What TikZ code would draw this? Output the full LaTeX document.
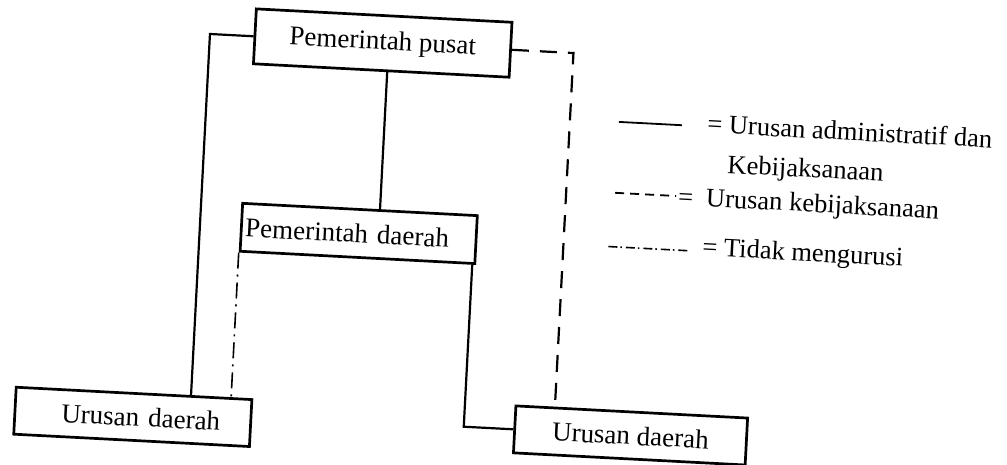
\documentclass[tikz,border=0pt]{standalone}
\usepackage{fontspec}
\setmainfont{Liberation Serif}
\begin{document}
\begin{tikzpicture}[x=1pt,y=-1pt,
  box/.style={draw, line width=2.7pt, inner sep=0pt, font=\fontsize{27}{32}\selectfont},
  conn/.style={line width=2.2pt},
  dashconn/.style={line width=2.2pt, dash pattern=on 17pt off 11pt},
  dashdotconn/.style={line width=1.6pt, dash pattern=on 16pt off 6pt on 2pt off 6pt},
  legtext/.style={anchor=base west, inner sep=0pt, font=\fontsize{26.5}{32}\selectfont}]
\useasboundingbox[fill=white] (0,0) rectangle (1007,465);
\begin{scope}[rotate around={-3:(503,232)}, transform shape]
  % boxes
  \node[box, minimum width=256pt, minimum height=55pt] (top) at (373,49.6) {Pemerintah pusat};
  \node[box, minimum height=48pt, text width=227pt, inner xsep=4pt, align=left] (mid) at (359,241) {Pemerintah daerah};
  \node[box, minimum width=236pt, minimum height=47pt, text width=175pt, align=right] (bl) at (143,436) {Urusan daerah};
  \node[box, minimum width=232pt, minimum height=47pt] (br) at (641,428.5) {Urusan daerah};
  % helper coordinates
  \coordinate (lx) at (200,0);
  \coordinate (cx) at (379,0);
  \coordinate (rx) at (474,0);
  \coordinate (dx) at (564,0);
  % connectors
  \draw[conn] (top.west) -| (bl.north -| lx);
  \draw[conn] (top.south -| cx) -- (mid.north -| cx);
  \draw[conn] (mid.south -| rx) |- (br.west);
  \draw[dashdotconn] (mid.south west) -- (mid.south west |- bl.north);
  \draw[dashconn] (top.east) -| (br.north -| dx);
  % legend
  \coordinate (l1a) at (613,116);
  \coordinate (l1b) at (676,116);
  \draw[line width=1.8pt] (l1a) -- (l1b);
  \node[legtext] (t1) at (701.4,122.3) {= Urusan administratif dan};
  \node[legtext] (t2) at (723.6,161.4) {Kebijaksanaan};
  \coordinate (l2a) at (613,187);
  \coordinate (l2b) at (674,187);
  \draw[line width=1.8pt, dash pattern=on 9pt off 6pt] (l2a) -- (l2b);
  \node[legtext] (t3) at (676,196) {=\hspace{13pt}Urusan kebijaksanaan};
  \coordinate (l3a) at (609,241);
  \coordinate (l3b) at (688,241);
  \draw[line width=1.6pt, dash pattern=on 9pt off 3pt on 1.5pt off 4pt] (l3a) -- (l3b);
  \node[legtext] (t4) at (702.9,245.2) {= Tidak mengurusi};
\end{scope}
\end{tikzpicture}
\end{document}
